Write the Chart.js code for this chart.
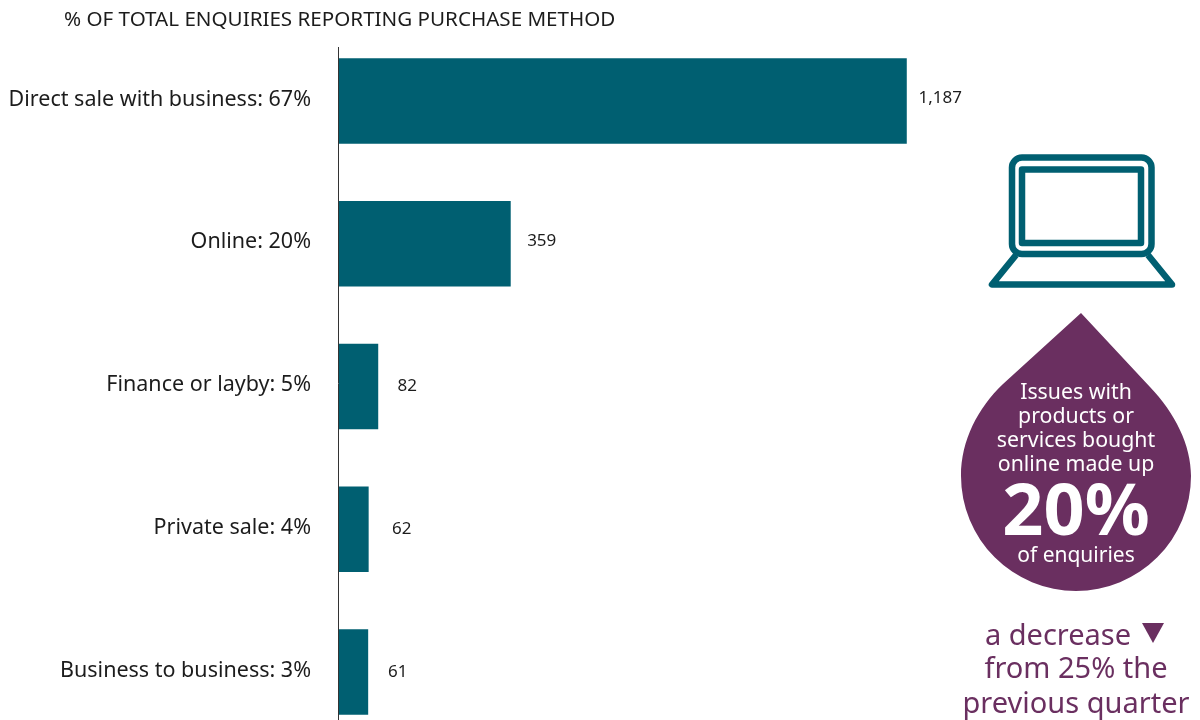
<!DOCTYPE html>
<html>
<head>
<meta charset="utf-8">
<title>Enquiries by purchase method</title>
<script src="https://cdn.jsdelivr.net/npm/chart.js@4"></script>
<style>
html, body { margin: 0; padding: 0; background: #fff; overflow: hidden; }
#wrap { position: relative; width: 1200px; height: 720px; overflow: hidden; }
canvas { position: absolute; left: 0; top: 0; }
</style>
</head>
<body>
<div id="wrap"><canvas id="bar-chart" width="1200" height="744"></canvas></div>
<script>
var methods = ["Direct sale with business", "Online", "Finance or layby", "Private sale", "Business to business"];
var shares = [67, 20, 5, 4, 3];
var enquiries = [1187, 359, 82, 62, 61];
var dropLines = ["Issues with", "products or", "services bought", "online made up"];
var footLines = ["a decrease", "from 25% the", "previous quarter"];

var TEAL = "#005f71";
var PURPLE = "#6a2f60";
var INK = "#1c1c1c";
var FONT = '"Noto Sans", sans-serif';

// hand placement of the numbers beside the bars
var numberDx = [33.5, 31, 29, 33, 29.5];
var numberDy = [-3, -3, 0, 0, 0];

var labels = methods.map(function (m, i) { return m + ": " + shares[i] + "%"; });

// title, axis line and the number beside each bar
var chartText = {
  id: "chartText",
  afterDatasetsDraw: function (chart) {
    var c = chart.ctx;
    var area = chart.chartArea;
    c.save();
    c.strokeStyle = "#333";
    c.lineWidth = 1;
    c.beginPath();
    c.moveTo(area.left - 0.5, 47);
    c.lineTo(area.left - 0.5, 720);
    c.stroke();

    c.fillStyle = INK;
    c.textBaseline = "middle";
    c.font = "20.6px " + FONT;
    c.textAlign = "left";
    c.fillText("% OF TOTAL ENQUIRIES REPORTING PURCHASE METHOD", 64, 20);

    c.font = "17px " + FONT;
    c.textAlign = "center";
    chart.getDatasetMeta(0).data.forEach(function (bar, i) {
      c.fillText(enquiries[i].toLocaleString("en-AU"), bar.x + numberDx[i], bar.y + numberDy[i]);
    });
    c.restore();
  }
};

function drawLaptop(c) {
  c.save();
  c.strokeStyle = TEAL;
  c.lineWidth = 6.5;
  c.lineJoin = "round";
  c.beginPath();
  c.roundRect(1012, 157.5, 139.5, 96.5, 10);
  c.stroke();
  c.beginPath();
  c.rect(1022, 169.5, 119, 73.5);
  c.stroke();
  c.beginPath();
  c.moveTo(1016, 255);
  c.lineTo(992, 284.5);
  c.lineTo(1172, 284.5);
  c.lineTo(1148, 255);
  c.stroke();
  c.restore();
}

function drawDrop(c) {
  c.save();
  c.fillStyle = PURPLE;
  c.beginPath();
  c.moveTo(1081, 313);
  c.lineTo(1150, 387);
  c.bezierCurveTo(1175, 413, 1191, 445, 1191, 476);
  c.arc(1076, 476, 115, 0, Math.PI);
  c.bezierCurveTo(961, 440, 978, 408, 1003, 384);
  c.closePath();
  c.fill();

  c.fillStyle = "#fff";
  c.textAlign = "center";
  c.textBaseline = "middle";
  c.font = "21.3px " + FONT;
  dropLines.forEach(function (t, i) {
    c.fillText(t, 1076, 392.5 + i * 24);
  });
  c.font = "bold 72px " + FONT;
  c.fillText(shares[1] + "%", 1076, 514);
  c.font = "21px " + FONT;
  c.fillText("of enquiries", 1076, 556.5);

  c.fillStyle = PURPLE;
  c.font = "29px " + FONT;
  c.fillText(footLines[0], 1058, 637);
  c.fillText(footLines[1], 1076, 670);
  c.fillText(footLines[2], 1076, 705);

  // down arrow after "a decrease"
  c.beginPath();
  c.moveTo(1142, 623);
  c.lineTo(1164, 623);
  c.lineTo(1153, 643);
  c.closePath();
  c.fill();
  c.restore();
}

var sidePanel = {
  id: "sidePanel",
  afterDraw: function (chart) {
    drawLaptop(chart.ctx);
    drawDrop(chart.ctx);
  }
};

new Chart(document.getElementById("bar-chart"), {
  type: "bar",
  plugins: [chartText, sidePanel],
  data: {
    labels: labels,
    datasets: [{
      data: enquiries,
      backgroundColor: TEAL,
      borderWidth: 0,
      categoryPercentage: 1,
      barPercentage: 0.6
    }]
  },
  options: {
    indexAxis: "y",
    responsive: false,
    animation: false,
    layout: { padding: { top: 29.6, bottom: 0.6, right: 287 } },
    plugins: { legend: { display: false }, tooltip: { enabled: false } },
    scales: {
      x: {
        display: false,
        min: 0,
        max: 1200
      },
      y: {
        // tick padding would otherwise also eat into the plot height
        afterFit: function (scale) {
          scale.width = 339;
          scale.paddingTop = 0;
          scale.paddingBottom = 0;
        },
        grid: { display: false, drawTicks: false },
        border: { display: false },
        ticks: {
          padding: 28,
          labelOffset: -1.5,
          color: INK,
          font: { family: "Noto Sans", size: 21.5 }
        }
      }
    }
  }
});
</script>
</body>
</html>
